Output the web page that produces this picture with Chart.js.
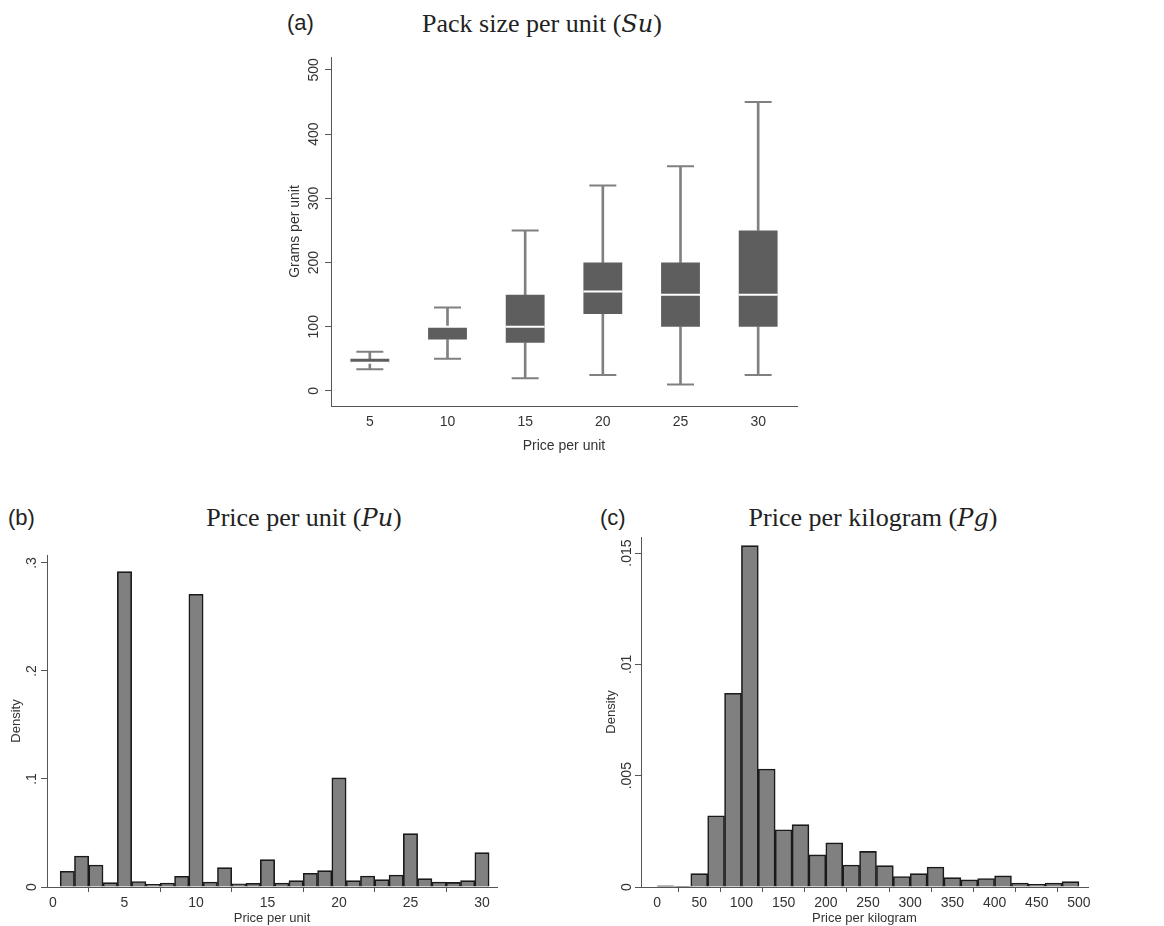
<!DOCTYPE html>
<html>
<head>
<meta charset="utf-8">
<title>Pack size and prices</title>
<script src="https://cdn.jsdelivr.net/npm/chart.js@4.4.1/dist/chart.umd.min.js"></script>
<style>
  body { margin: 0; background: #fff; width: 1164px; height: 926px; position: relative; overflow: hidden; }
  canvas { position: absolute; }
  .tag { position: absolute; font: 22px "Liberation Sans", Arial, sans-serif; color: #222; line-height: 1; }
  .ttl { position: absolute; font: 26px "Liberation Serif", "Times New Roman", serif; color: #222; line-height: 1; transform: translateX(-50%); white-space: nowrap; }
  .ttl i { font-family: "DejaVu Serif", serif; font-size: 24px; }
</style>
</head>
<body>
<div class="tag" style="left:287px;top:12px">(a)</div>
<div class="ttl" style="left:542px;top:11px">Pack size per unit (<i>Su</i>)</div>
<div class="tag" style="left:8px;top:507px">(b)</div>
<div class="ttl" style="left:304px;top:505px">Price per unit (<i>Pu</i>)</div>
<div class="tag" style="left:600px;top:507px">(c)</div>
<div class="ttl" style="left:873px;top:505px">Price per kilogram (<i>Pg</i>)</div>

<canvas id="boxChart" width="540" height="410" style="left:270px;top:50px"></canvas>
<canvas id="unitChart" width="560" height="386" style="left:0px;top:540px"></canvas>
<canvas id="kgChart" width="574" height="396" style="left:590px;top:530px"></canvas>

<script>
// (a) grams per unit by price per unit
const priceCats = ['5', '10', '15', '20', '25', '30'];
const sizeMin = [34, 50, 20, 25, 10, 25];
const sizeQ1 = [44, 80, 75, 120, 100, 100];
const sizeMedian = [44, 100, 100, 155, 150, 150];
const sizeQ3 = [50, 100, 150, 200, 200, 250];
const sizeMax = [61, 130, 250, 320, 350, 450];
const sizeTicks = [0, 100, 200, 300, 400, 500];

// (b) histogram price per unit (bin centres, width 1)
const unitBins = [1, 2, 3, 4, 5, 6, 7, 8, 9, 10, 11, 12, 13, 14, 15, 16, 17, 18, 19, 20, 21, 22, 23, 24, 25, 26, 27, 28, 29, 30];
const unitDensity = [0.0145, 0.0287, 0.0204, 0.004, 0.292, 0.005, 0.0025, 0.0037, 0.0099, 0.271,
  0.0046, 0.0179, 0.003, 0.0034, 0.0253, 0.0037, 0.0059, 0.0127, 0.0151, 0.101,
  0.0059, 0.0102, 0.0068, 0.0111, 0.0494, 0.0077, 0.0046, 0.0043, 0.0059, 0.0318];
const unitXTicks = [0, 5, 10, 15, 20, 25, 30];
const unitYTicks = [0, 0.1, 0.2, 0.3];

// (c) histogram price per kilogram (bin centres, width 20)
const kgBins = [10, 30, 50, 70, 90, 110, 130, 150, 170, 190, 210, 230, 250, 270, 290, 310, 330, 350, 370, 390, 410, 430, 450, 470, 490];
const kgDensity = [0.00005, 0.00002, 0.0006, 0.0032, 0.0087, 0.01533, 0.0053, 0.00257, 0.0028, 0.00144,
  0.00198, 0.00099, 0.0016, 0.00096, 0.00047, 0.0006, 0.0009, 0.00042, 0.00032, 0.00038,
  0.0005, 0.00018, 0.00012, 0.00018, 0.00024];
const kgXTicks = [0, 50, 100, 150, 200, 250, 300, 350, 400, 450, 500];
const kgYTicks = [0, 0.005, 0.01, 0.015];

const sans = '"Liberation Sans", Arial, sans-serif';
const textCol = '#333';
const axisCol = '#555';

function stataNum(v) {
  if (v === 0) return '0';
  return String(+v.toFixed(4)).replace(/^0\./, '.');
}

// y tick labels turned 90 degrees like Stata does
function verticalTicks(offset) {
  return {
    id: 'verticalTicks',
    afterDraw(chart) {
      const y = chart.scales.y;
      const ctx = chart.ctx;
      ctx.save();
      ctx.font = '14px ' + sans;
      ctx.fillStyle = textCol;
      ctx.textAlign = 'center';
      ctx.textBaseline = 'middle';
      y.ticks.forEach(t => {
        ctx.save();
        ctx.translate(y.right - offset, y.getPixelForValue(t.value));
        ctx.rotate(-Math.PI / 2);
        ctx.fillText(stataNum(t.value), 0, 0);
        ctx.restore();
      });
      ctx.restore();
    }
  };
}

function yAxis(min, max, ticks, width, title, titlePad, titleSize) {
  return {
    type: 'linear', min, max,
    afterBuildTicks: s => { s.ticks = ticks.map(v => ({ value: v })); },
    afterFit: s => { s.width = width; },
    ticks: { display: false },
    grid: { display: true, drawOnChartArea: false, drawTicks: true, tickLength: 6, color: axisCol },
    border: { display: true, color: axisCol, width: 1 },
    title: { display: true, text: title, color: textCol, font: { family: sans, size: titleSize }, padding: { top: titlePad, bottom: 0 } }
  };
}

const common = {
  responsive: false,
  animation: false,
  events: [],
  plugins: { legend: { display: false }, tooltip: { enabled: false } }
};

// (a) box plot from floating bars and line markers
new Chart(document.getElementById('boxChart'), {
  type: 'bar',
  data: {
    labels: priceCats,
    datasets: [
      { type: 'line', data: sizeMedian, showLine: false, pointStyle: 'line', pointRadius: 19.5, pointBorderWidth: 2, pointBorderColor: '#ffffff', order: 0 },
      { data: priceCats.map((c, i) => [sizeQ1[i], sizeQ3[i]]), backgroundColor: '#5e5e5e', barPercentage: 0.5, categoryPercentage: 1, grouped: false, order: 1 },
      { data: priceCats.map((c, i) => [sizeMin[i], sizeQ1[i]]), backgroundColor: '#808080', barThickness: 2, grouped: false, order: 2 },
      { data: priceCats.map((c, i) => [sizeQ3[i], sizeMax[i]]), backgroundColor: '#808080', barThickness: 2, grouped: false, order: 2 },
      { type: 'line', data: sizeMin, showLine: false, pointStyle: 'line', pointRadius: 13.5, pointBorderWidth: 2, pointBorderColor: '#808080', order: 2 },
      { type: 'line', data: sizeMax, showLine: false, pointStyle: 'line', pointRadius: 13.5, pointBorderWidth: 2, pointBorderColor: '#808080', order: 2 }
    ]
  },
  options: {
    ...common,
    layout: { autoPadding: false, padding: { top: 7, right: 13, left: 0, bottom: 0 } },
    scales: {
      x: {
        type: 'category', offset: true,
        afterFit: s => { s.height = 54; },
        grid: { display: false, tickLength: 0 },
        border: { display: true, color: axisCol, width: 1 },
        ticks: { color: textCol, font: { family: sans, size: 14 }, padding: 8 },
        title: { display: true, text: 'Price per unit', color: textCol, font: { family: sans, size: 14 }, padding: { top: 0, bottom: 5 } }
      },
      y: yAxis(-23.4, 520, sizeTicks, 61, 'Grams per unit', 17, 14)
    }
  },
  plugins: [verticalTicks(17)]
});

function histX(min, max, ticks, title) {
  return {
    type: 'linear', min, max, offset: false,
    afterBuildTicks: s => { s.ticks = ticks.map(v => ({ value: v })); },
    afterFit: s => { s.height = 39; },
    grid: { display: true, drawOnChartArea: false, drawTicks: true, tickLength: 5, color: axisCol },
    border: { display: true, color: axisCol, width: 1 },
    ticks: { color: textCol, font: { family: sans, size: 14 }, padding: 3, maxRotation: 0, autoSkip: false },
    title: { display: true, text: title, color: textCol, font: { family: sans, size: 13 }, padding: { top: 0, bottom: 0 } }
  };
}

function histSet(xs, ys) {
  return {
    data: xs.map((x, i) => ({ x, y: ys[i] })),
    backgroundColor: '#808080',
    borderColor: '#1a1a1a',
    borderWidth: 1.6,
    barPercentage: 1,
    categoryPercentage: 1
  };
}

// (b) price per unit
new Chart(document.getElementById('unitChart'), {
  type: 'bar',
  data: { datasets: [histSet(unitBins, unitDensity)] },
  options: {
    ...common,
    layout: { autoPadding: false, padding: { top: 15, right: 63, left: 0, bottom: 0 } },
    scales: {
      x: histX(-0.42, 31.05, unitXTicks, 'Price per unit'),
      y: yAxis(0, 0.3074, unitYTicks, 47, 'Density', 9, 13)
    }
  },
  plugins: [verticalTicks(15)]
});

// (c) price per kilogram
new Chart(document.getElementById('kgChart'), {
  type: 'bar',
  data: { datasets: [histSet(kgBins, kgDensity)] },
  options: {
    ...common,
    layout: { autoPadding: false, padding: { top: 7, right: 76, left: 0, bottom: 0 } },
    scales: {
      x: histX(-19, 510.7, kgXTicks, 'Price per kilogram'),
      y: yAxis(0, 0.01572, kgYTicks, 51, 'Density', 14, 13)
    }
  },
  plugins: [verticalTicks(14)]
});
</script>
</body>
</html>
